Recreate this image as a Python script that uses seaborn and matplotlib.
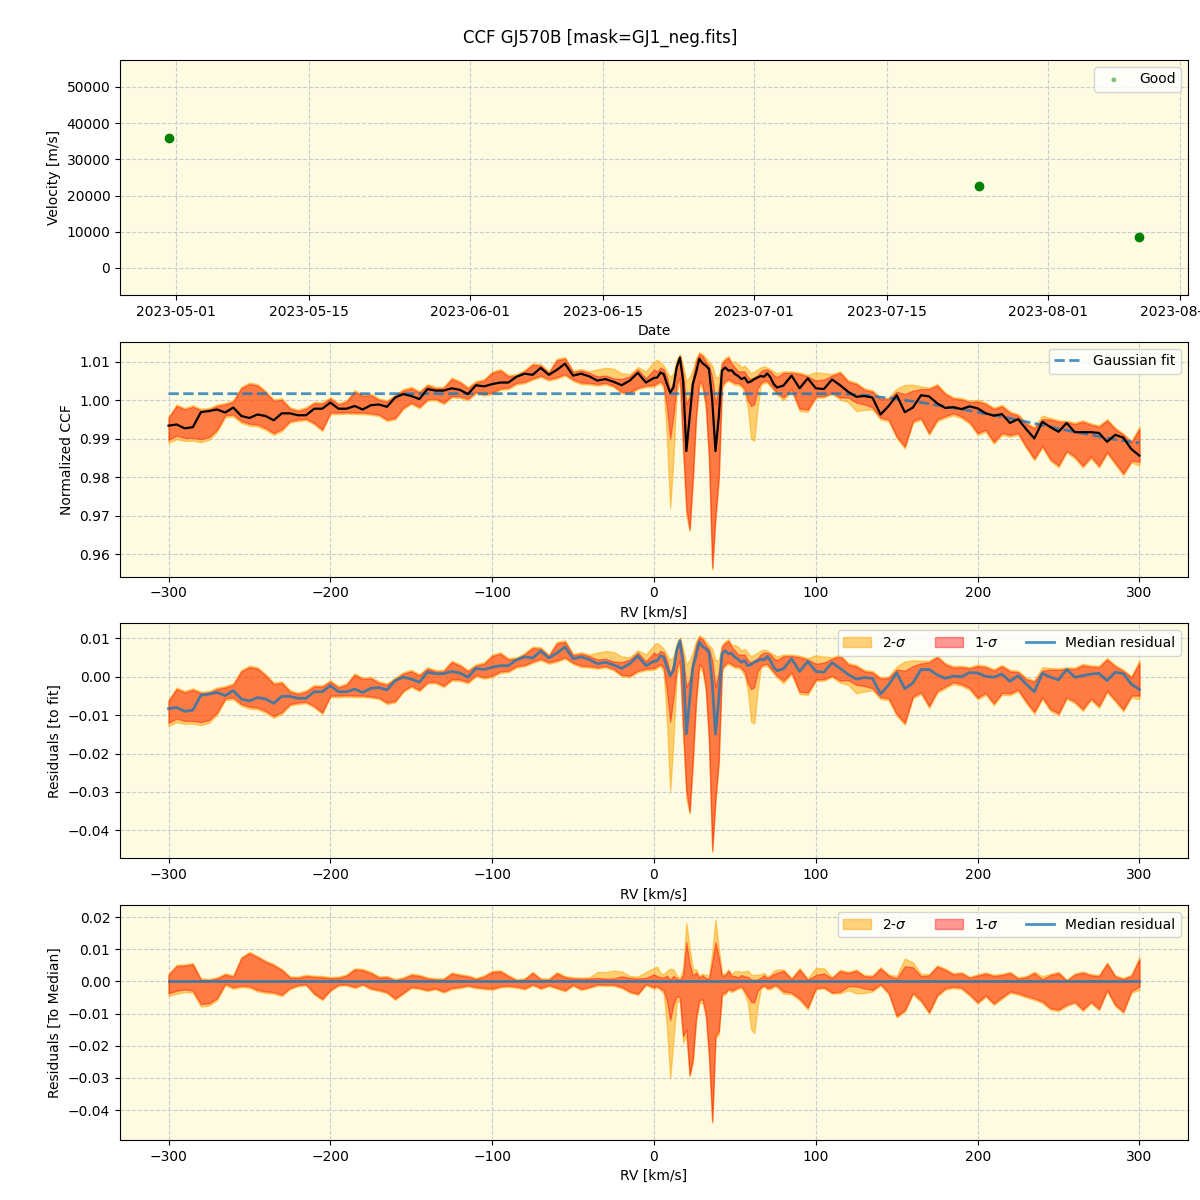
import matplotlib
matplotlib.use("Agg")
import matplotlib.pyplot as plt
import matplotlib.dates as mdates
import numpy as np
import pandas as pd
import seaborn as sns

# --- velocity time series (top panel) ---
obs_dates = ["2023-04-30 04:00", "2023-07-24 19:00", "2023-08-10 17:00"]
obs_vel = [35900, 22600, 8550]

# --- CCF sampling [km/s]: 5 km/s steps, 2 km/s across the line region ---
rv = list(range(-300, 0, 5)) + list(range(0, 78, 2)) + list(range(80, 305, 5))

ccf_median = [
    0.9934, 0.9937, 0.9927, 0.9930, 0.9969, 0.9972, 0.9976, 0.9968, 0.9981, 0.9959,
    0.9954, 0.9963, 0.9959, 0.9948, 0.9966, 0.9966, 0.9961, 0.9961, 0.9978, 0.9978,
    0.9994, 0.9978, 0.9978, 0.9985, 0.9976, 0.9987, 0.9989, 0.9983, 1.0007, 1.0016,
    1.0011, 1.0003, 1.0029, 1.0025, 1.0025, 1.0031, 1.0027, 1.0016, 1.0039, 1.0036,
    1.0042, 1.0046, 1.0046, 1.0061, 1.0069, 1.0066, 1.0084, 1.0066, 1.0079, 1.0095,
    1.0064, 1.0069, 1.0062, 1.0051, 1.0055, 1.0048, 1.0039, 1.0051, 1.0071, 1.0046,
    # 0 .. 76
    1.0058, 1.0059, 1.0072, 1.0068, 1.0042, 1.0020, 1.0033, 1.0085, 1.0111, 1.0050,
    0.9868, 0.9955, 1.0042, 1.0072, 1.0108, 1.0096, 1.0090, 1.0081, 1.0000, 0.9868,
    0.9955, 1.0077, 1.0085, 1.0077, 1.0078, 1.0068, 1.0063, 1.0055, 1.0059, 1.0046,
    1.0049, 1.0055, 1.0059, 1.0063, 1.0061, 1.0070, 1.0059, 1.0042, 1.0033,
    # 80 .. 300
    1.0038, 1.0064, 1.0031, 1.0057, 1.0031, 1.0029, 1.0054, 1.0039, 1.0022, 1.0009,
    1.0011, 1.0007, 0.9963, 0.9985, 1.0013, 0.9969, 0.9981, 1.0013, 1.0010, 0.9992,
    0.9980, 0.9982, 0.9977, 0.9984, 0.9979, 0.9966, 0.9960, 0.9964, 0.9941, 0.9951,
    0.9925, 0.9901, 0.9944, 0.9930, 0.9918, 0.9941, 0.9917, 0.9917, 0.9917, 0.9915,
    0.9892, 0.9910, 0.9903, 0.9873, 0.9856,
]

low_1sig = [
    0.9897, 0.9908, 0.9902, 0.9902, 0.9899, 0.9904, 0.9924, 0.9961, 0.9963, 0.9946,
    0.9939, 0.9937, 0.9928, 0.9915, 0.9925, 0.9946, 0.9950, 0.9952, 0.9941, 0.9924,
    0.9968, 0.9968, 0.9969, 0.9968, 0.9968, 0.9966, 0.9963, 0.9950, 0.9954, 0.9981,
    0.9994, 0.9983, 1.0003, 1.0004, 0.9994, 1.0011, 1.0010, 1.0004, 1.0022, 1.0016,
    1.0020, 1.0031, 1.0033, 1.0045, 1.0048, 1.0057, 1.0064, 1.0055, 1.0060, 1.0068,
    1.0054, 1.0046, 1.0045, 1.0042, 1.0045, 1.0038, 1.0022, 1.0020, 1.0033, 1.0038,
    1.0040, 1.0045, 1.0050, 1.0040, 0.9980, 0.9900, 0.9960, 1.0040, 1.0060, 0.9880,
    0.9720, 0.9665, 0.9800, 0.9960, 1.0050, 1.0040, 0.9990, 0.9850, 0.9565, 0.9700,
    0.9800, 1.0040, 1.0050, 1.0055, 1.0050, 1.0045, 1.0045, 1.0040, 1.0030, 1.0000,
    0.9985, 0.9990, 1.0030, 1.0045, 1.0050, 1.0050, 1.0040, 1.0030, 1.0020,
    1.0007, 1.0029, 0.9978, 0.9976, 1.0010, 1.0011, 1.0020, 1.0007, 1.0007, 0.9994,
    0.9989, 0.9981, 0.9955, 0.9950, 0.9906, 0.9880, 0.9946, 0.9954, 0.9915, 0.9950,
    0.9959, 0.9966, 0.9958, 0.9944, 0.9915, 0.9923, 0.9892, 0.9915, 0.9910, 0.9915,
    0.9880, 0.9849, 0.9882, 0.9847, 0.9831, 0.9869, 0.9854, 0.9830, 0.9854, 0.9830,
    0.9866, 0.9838, 0.9810, 0.9843, 0.9840,
]

high_1sig = [
    0.9954, 0.9985, 0.9976, 0.9983, 0.9974, 0.9976, 0.9985, 0.9989, 0.9996, 1.0031,
    1.0042, 1.0038, 1.0020, 0.9998, 1.0001, 0.9978, 0.9972, 0.9978, 0.9992, 0.9991,
    1.0004, 0.9989, 0.9996, 1.0022, 1.0011, 1.0013, 1.0001, 0.9996, 1.0011, 1.0025,
    1.0031, 1.0020, 1.0038, 1.0031, 1.0031, 1.0055, 1.0046, 1.0031, 1.0046, 1.0051,
    1.0071, 1.0077, 1.0062, 1.0064, 1.0075, 1.0092, 1.0090, 1.0071, 1.0104, 1.0108,
    1.0073, 1.0077, 1.0071, 1.0062, 1.0064, 1.0057, 1.0055, 1.0062, 1.0080, 1.0057,
    1.0080, 1.0075, 1.0085, 1.0080, 1.0060, 1.0025, 1.0050, 1.0095, 1.0115, 1.0070,
    0.9990, 1.0010, 1.0060, 1.0100, 1.0120, 1.0115, 1.0100, 1.0090, 1.0060, 0.9990,
    1.0030, 1.0095, 1.0105, 1.0110, 1.0095, 1.0085, 1.0075, 1.0075, 1.0075, 1.0060,
    1.0055, 1.0060, 1.0065, 1.0075, 1.0080, 1.0080, 1.0075, 1.0065, 1.0060,
    1.0071, 1.0071, 1.0068, 1.0062, 1.0051, 1.0054, 1.0064, 1.0071, 1.0048, 1.0042,
    1.0027, 1.0022, 1.0003, 1.0003, 1.0022, 1.0016, 1.0025, 1.0029, 1.0029, 1.0038,
    1.0016, 1.0004, 1.0002, 0.9995, 0.9997, 0.9990, 0.9977, 0.9984, 0.9967, 0.9960,
    0.9938, 0.9927, 0.9951, 0.9950, 0.9944, 0.9943, 0.9938, 0.9944, 0.9936, 0.9931,
    0.9947, 0.9925, 0.9910, 0.9890, 0.9925,
]

low_2sig = [
    0.9889, 0.9899, 0.9894, 0.9895, 0.9891, 0.9897, 0.9918, 0.9956, 0.9958, 0.9941,
    0.9934, 0.9932, 0.9923, 0.9910, 0.9920, 0.9942, 0.9946, 0.9948, 0.9937, 0.9920,
    0.9964, 0.9964, 0.9965, 0.9964, 0.9964, 0.9962, 0.9959, 0.9946, 0.9950, 0.9977,
    0.9990, 0.9979, 0.9999, 1.0000, 0.9990, 1.0007, 1.0006, 1.0000, 1.0018, 1.0012,
    1.0016, 1.0027, 1.0029, 1.0041, 1.0044, 1.0053, 1.0060, 1.0051, 1.0056, 1.0064,
    1.0050, 1.0042, 1.0041, 1.0038, 1.0041, 1.0034, 1.0018, 1.0016, 1.0029, 1.0034,
    1.0035, 1.0040, 1.0045, 1.0030, 0.9900, 0.9720, 0.9850, 1.0020, 1.0050, 0.9860,
    0.9700, 0.9660, 0.9790, 0.9950, 1.0040, 1.0030, 0.9980, 0.9840, 0.9560, 0.9690,
    0.9790, 1.0030, 1.0045, 1.0050, 1.0045, 1.0040, 1.0040, 1.0035, 1.0020, 0.9980,
    0.9900, 0.9895, 0.9980, 1.0040, 1.0045, 1.0045, 1.0035, 1.0025, 1.0015,
    1.0000, 1.0024, 0.9972, 0.9970, 1.0006, 1.0007, 1.0016, 1.0002, 0.9995, 0.9972,
    0.9975, 0.9976, 0.9950, 0.9945, 0.9901, 0.9875, 0.9941, 0.9949, 0.9910, 0.9945,
    0.9954, 0.9961, 0.9953, 0.9939, 0.9910, 0.9918, 0.9887, 0.9910, 0.9905, 0.9910,
    0.9875, 0.9844, 0.9877, 0.9842, 0.9826, 0.9864, 0.9849, 0.9825, 0.9849, 0.9825,
    0.9861, 0.9833, 0.9805, 0.9838, 0.9830,
]

high_2sig = [
    0.9958, 0.9989, 0.9980, 0.9987, 0.9978, 0.9980, 0.9989, 0.9993, 1.0000, 1.0035,
    1.0046, 1.0042, 1.0024, 1.0002, 1.0005, 0.9982, 0.9976, 0.9982, 0.9996, 0.9995,
    1.0008, 0.9993, 1.0000, 1.0026, 1.0015, 1.0017, 1.0005, 1.0000, 1.0015, 1.0029,
    1.0035, 1.0024, 1.0042, 1.0035, 1.0035, 1.0059, 1.0050, 1.0035, 1.0050, 1.0055,
    1.0075, 1.0081, 1.0066, 1.0068, 1.0079, 1.0096, 1.0094, 1.0075, 1.0108, 1.0112,
    1.0077, 1.0081, 1.0075, 1.0080, 1.0084, 1.0082, 1.0070, 1.0068, 1.0086, 1.0075,
    1.0100, 1.0105, 1.0098, 1.0090, 1.0075, 1.0060, 1.0070, 1.0105, 1.0120, 1.0090,
    1.0050, 1.0060, 1.0080, 1.0110, 1.0125, 1.0120, 1.0110, 1.0100, 1.0090, 1.0060,
    1.0060, 1.0100, 1.0110, 1.0115, 1.0100, 1.0100, 1.0095, 1.0085, 1.0090, 1.0080,
    1.0070, 1.0075, 1.0080, 1.0085, 1.0088, 1.0085, 1.0080, 1.0075, 1.0070,
    1.0075, 1.0075, 1.0072, 1.0066, 1.0073, 1.0070, 1.0068, 1.0075, 1.0052, 1.0046,
    1.0031, 1.0026, 1.0007, 1.0007, 1.0030, 1.0040, 1.0040, 1.0036, 1.0033, 1.0042,
    1.0020, 1.0008, 1.0006, 0.9999, 1.0001, 0.9994, 0.9981, 0.9988, 0.9971, 0.9964,
    0.9942, 0.9931, 0.9960, 0.9954, 0.9948, 0.9947, 0.9942, 0.9948, 0.9940, 0.9935,
    0.9951, 0.9929, 0.9914, 0.9894, 0.9932,
]

# Gaussian fit evaluated on the same grid (flat up to ~110 km/s)
gauss_fit = [1.0017] * 106 + [
    1.0017, 1.0016, 1.0015, 1.0013, 1.0011, 1.0008, 1.0006, 1.0003, 1.0000, 0.9997,
    0.9994, 0.9991, 0.9987, 0.9984, 0.9980, 0.9977, 0.9973, 0.9969, 0.9965, 0.9961,
    0.9957, 0.9953, 0.9948, 0.9944, 0.9940, 0.9935, 0.9931, 0.9926, 0.9922, 0.9918,
    0.9914, 0.9910, 0.9906, 0.9902, 0.9898, 0.9895, 0.9892, 0.9889,
]

rv = np.array(rv)
med = np.array(ccf_median)
lo1, hi1 = np.array(low_1sig), np.array(high_1sig)
lo2, hi2 = np.array(low_2sig), np.array(high_2sig)
fit = np.array(gauss_fit)

BG = "#fdfbe2"


def style_axis(ax):
    ax.set_facecolor(BG)
    ax.grid(True, linestyle="--", color="0.8", linewidth=0.8)
    ax.set_axisbelow(True)


fig, axes = plt.subplots(4, 1, figsize=(12, 12), dpi=100)
fig.subplots_adjust(left=0.1, right=0.99, top=0.95, bottom=0.05, hspace=0.2)
fig.suptitle("CCF GJ570B [mask=GJ1_neg.fits]", fontsize=12, y=0.976)

# Panel 1: velocity vs date
ax = axes[0]
style_axis(ax)
dates = pd.to_datetime(obs_dates)
ax.errorbar(dates, obs_vel, fmt="o", color="green", ms=6, zorder=3)
sns.scatterplot(x=dates, y=obs_vel, ax=ax, color="green", alpha=0.5, s=12,
                edgecolor="none", label="Good", zorder=4)
ax.set_ylim(-7400, 57400)
ax.xaxis.set_major_locator(mdates.DayLocator(bymonthday=[1, 15]))
ax.xaxis.set_major_formatter(mdates.DateFormatter("%Y-%m-%d"))
ax.set_xlabel("Date")
ax.set_ylabel("Velocity [m/s]")
ax.legend(loc="upper right")

# Panel 2: normalized CCF
ax = axes[1]
style_axis(ax)
ax.fill_between(rv, lo2, hi2, color="orange", alpha=0.5)
ax.fill_between(rv, lo1, hi1, color="red", alpha=0.4)
sns.lineplot(x=rv, y=fit, ax=ax, color="C0", alpha=0.8, lw=2,
             linestyle="--", label="Gaussian fit")
sns.lineplot(x=rv, y=med, ax=ax, color="black", lw=1.6)
ax.set_xlim(-330, 330)
ax.set_ylim(0.9542, 1.0152)
ax.set_xlabel("RV [km/s]")
ax.set_ylabel("Normalized CCF")
ax.legend(loc="upper right")

# Panels 3 and 4: residuals to fit and to median
for ax, ref, ylab, ylim in [
    (axes[2], fit, "Residuals [to fit]", (-0.0473, 0.0139)),
    (axes[3], med, "Residuals [To Median]", (-0.0493, 0.0237)),
]:
    style_axis(ax)
    ax.fill_between(rv, lo2 - ref, hi2 - ref, color="orange", alpha=0.5,
                    label="2-$\\sigma$")
    ax.fill_between(rv, lo1 - ref, hi1 - ref, color="red", alpha=0.4,
                    label="1-$\\sigma$")
    sns.lineplot(x=rv, y=med - ref, ax=ax, color="C0", alpha=0.8, lw=2,
                 label="Median residual")
    ax.set_xlim(-330, 330)
    ax.set_ylim(*ylim)
    ax.set_xlabel("RV [km/s]")
    ax.set_ylabel(ylab)
    ax.legend(loc="upper right", ncol=3)

plt.savefig("out.png", dpi=100)
